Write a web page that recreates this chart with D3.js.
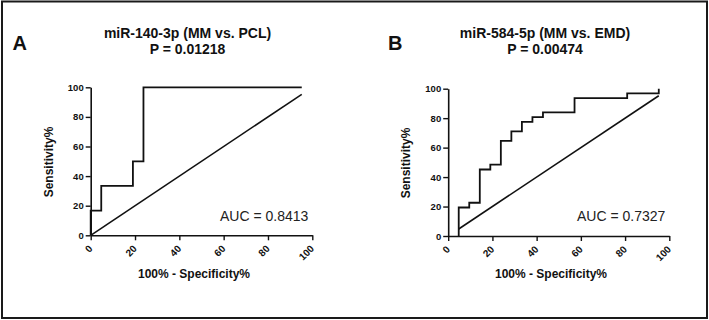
<!DOCTYPE html>
<html>
<head>
<meta charset="utf-8">
<script src="https://cdn.jsdelivr.net/npm/d3@7"></script>
<style>
  html, body { margin: 0; padding: 0; background: #fff; }
  svg { display: block; font-family: "Liberation Sans", Arial, sans-serif; }
</style>
</head>
<body>
<svg id="chart" width="709" height="320"></svg>
<script>
// ---- Data ----
const panelLetters = ["A", "B"];
const titles = ["miR-140-3p (MM vs. PCL)", "miR-584-5p (MM vs. EMD)"];
const pValues = ["P = 0.01218", "P = 0.00474"];
const aucLabels = ["AUC = 0.8413", "AUC = 0.7327"];

// ROC points (100% - Specificity%, Sensitivity%)
const rocA_fpr  = [0, 0, 4.76, 19.05, 23.81, 95.24];
const rocA_sens = [0, 16.67, 33.33, 50, 100, 100];
const rocB_fpr  = [4.76, 4.76, 9.52, 14.29, 19.05, 23.81, 28.57, 33.33, 38.10, 42.86, 57.14, 80.95, 95.24];
const rocB_sens = [0, 19.35, 22.58, 45.16, 48.39, 64.52, 70.97, 77.42, 80.65, 83.87, 93.55, 96.77, 100];

// Reference (chance) lines
const diagA = [0, 95.24];
const diagB = [4.76, 95.24];

const xTicks = [0, 20, 40, 60, 80, 100];
const yTicks = [0, 20, 40, 60, 80, 100];
const xTitle = "100% - Specificity%";
const yTitle = "Sensitivity%";

// ---- Drawing ----
const svg = d3.select("#chart");

svg.append("rect")
  .attr("x", 2).attr("y", 1.5)
  .attr("width", 705).attr("height", 316.5)
  .attr("fill", "none").attr("stroke", "#1a1a1a").attr("stroke-width", 2);

const panels = [
  { letter: panelLetters[0], title: titles[0], p: pValues[0], auc: aucLabels[0],
    fpr: rocA_fpr, sens: rocA_sens, diag: diagA,
    left: 90.7, right: 312.3, top: 87.3, bottom: 235.3,
    titleX: 187.5, letterX: 12.5, yTitleX: 53, yTitleY: 162, xTitleX: 194 },
  { letter: panelLetters[1], title: titles[1], p: pValues[1], auc: aucLabels[1],
    fpr: rocB_fpr, sens: rocB_sens, diag: diagB,
    left: 448.2, right: 669.3, top: 88.7, bottom: 236,
    titleX: 545, letterX: 388, yTitleX: 410, yTitleY: 163, xTitleX: 551 }
];

panels.forEach(P => {
  const g = svg.append("g");
  const x = d3.scaleLinear().domain([0, 100]).range([P.left, P.right]);
  const y = d3.scaleLinear().domain([0, 100]).range([P.bottom, P.top]);

  // Letter
  g.append("text").attr("x", P.letterX).attr("y", 49.5)
    .attr("font-size", 20).attr("font-weight", "bold").attr("fill", "#111")
    .text(P.letter);

  // Title lines
  g.append("text").attr("x", P.titleX).attr("y", 37.5)
    .attr("text-anchor", "middle").attr("font-size", 14).attr("font-weight", "bold").attr("fill", "#111")
    .text(P.title);
  g.append("text").attr("x", P.titleX).attr("y", 53.5)
    .attr("text-anchor", "middle").attr("font-size", 14).attr("font-weight", "bold").attr("fill", "#111")
    .text(P.p);

  // Axes
  const xAxis = d3.axisBottom(x).tickValues(xTicks).tickSize(5).tickSizeOuter(0).tickFormat(d3.format("d"));
  const gx = g.append("g").attr("transform", `translate(0,${P.bottom})`).call(xAxis);
  gx.select(".domain").attr("stroke", "#111").attr("stroke-width", 1.6);
  gx.selectAll(".tick line").attr("stroke", "#111").attr("stroke-width", 1.4);
  gx.selectAll(".tick text")
    .attr("font-family", "Liberation Sans, Arial, sans-serif")
    .attr("font-size", 10).attr("font-weight", "bold").attr("fill", "#111")
    .attr("text-anchor", "end")
    .attr("dy", null).attr("y", null)
    .attr("transform", "translate(2,14) rotate(-45)");

  const yAxis = d3.axisLeft(y).tickValues(yTicks).tickSize(5).tickSizeOuter(0).tickFormat(d3.format("d"));
  const gy = g.append("g").attr("transform", `translate(${P.left},0)`).call(yAxis);
  gy.select(".domain").attr("stroke", "#111").attr("stroke-width", 1.6);
  gy.selectAll(".tick line").attr("stroke", "#111").attr("stroke-width", 1.4);
  gy.selectAll(".tick text")
    .attr("font-family", "Liberation Sans, Arial, sans-serif")
    .attr("font-size", 9.5).attr("font-weight", "bold").attr("fill", "#111")
    .attr("x", -7);

  // Axis titles
  g.append("text").attr("x", P.xTitleX).attr("y", 277.5)
    .attr("text-anchor", "middle").attr("font-size", 12).attr("font-weight", "bold").attr("fill", "#111")
    .text(xTitle);
  g.append("text")
    .attr("transform", `translate(${P.yTitleX},${P.yTitleY}) rotate(-90)`)
    .attr("text-anchor", "middle").attr("font-size", 12).attr("font-weight", "bold").attr("fill", "#111")
    .text(yTitle);

  // Diagonal reference line
  g.append("line")
    .attr("x1", x(P.diag[0])).attr("y1", y(P.diag[0]))
    .attr("x2", x(P.diag[1])).attr("y2", y(P.diag[1]))
    .attr("stroke", "#111").attr("stroke-width", 1.6);

  // ROC curve
  const pts = P.fpr.map((f, i) => [f, P.sens[i]]);
  const line = d3.line().x(d => x(d[0])).y(d => y(d[1])).curve(d3.curveStepAfter);
  g.append("path").attr("d", line(pts))
    .attr("fill", "none").attr("stroke", "#111").attr("stroke-width", 1.8)
    .attr("stroke-linejoin", "miter");

  // AUC label
  g.append("text").attr("x", P.right - 4).attr("y", 220.5)
    .attr("text-anchor", "end").attr("font-size", 14).attr("font-weight", "normal").attr("fill", "#222")
    .text(P.auc);
});
</script>
</body>
</html>
